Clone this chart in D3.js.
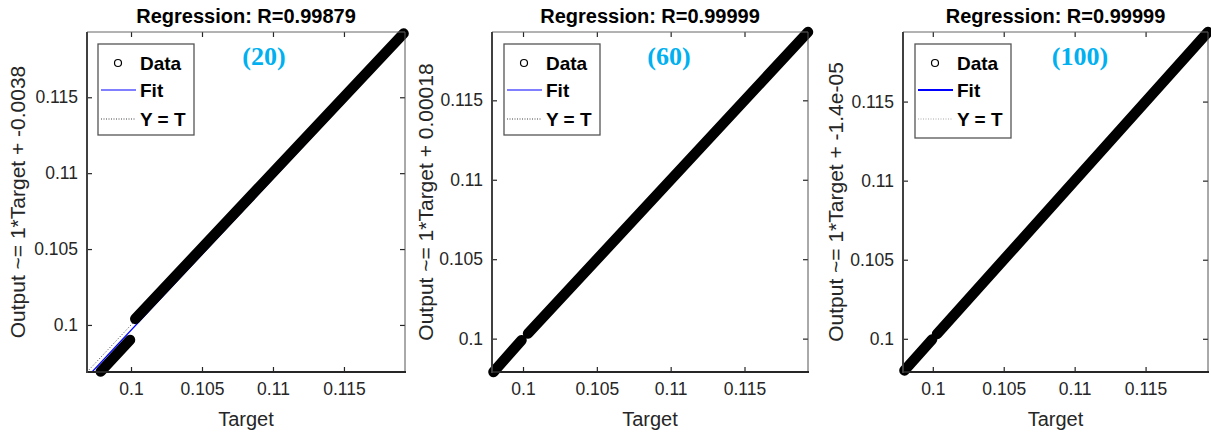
<!DOCTYPE html>
<html>
<head>
<meta charset="utf-8">
<script src="https://cdn.jsdelivr.net/npm/d3@7"></script>
<style>
  body { margin: 0; background: #fff; }
  svg { display: block; }
  text { font-family: "Liberation Sans", Arial, sans-serif; fill: #262626; }
</style>
</head>
<body>
<svg id="chart" width="1211" height="437"></svg>
<script>
// ---- data ----
const panelTitles = ["Regression: R=0.99879", "Regression: R=0.99999", "Regression: R=0.99999"];
const panelTags = ["(20)", "(60)", "(100)"];
const yLabels = [
  "Output ~= 1*Target + -0.0038",
  "Output ~= 1*Target + 0.00018",
  "Output ~= 1*Target + -1.4e-05"
];
// axis limits = min / max of the targets (same on x and y)
const axisLimits = [[0.0969, 0.1193], [0.0979, 0.1193], [0.0979, 0.1194]];
const tickValues = [0.1, 0.105, 0.11, 0.115];
const tickLabels = ["0.1", "0.105", "0.11", "0.115"];
// fit line as it is drawn in the picture
const fitSlopes = [1.0, 0.9983, 1.00013];
const fitIntercepts = [-0.00035, 0.00018, -0.000014];
// runs of data points: [target, output] at the start and end of each run
const dataRuns20 = [
  [[0.09787, 0.09693], [0.09993, 0.09901]],
  [[0.1003, 0.1004], [0.1192, 0.1192]]
];
const dataRuns60 = [
  [[0.0980, 0.0979], [0.0999, 0.0999]],
  [[0.10034, 0.10032], [0.1193, 0.1193]]
];
const dataRuns100 = [
  [[0.0980, 0.0980], [0.09995, 0.09995]],
  [[0.1003, 0.1003], [0.1194, 0.1194]]
];
const dataRuns = [dataRuns20, dataRuns60, dataRuns100];
const legendLabels = ["Data", "Fit", "Y = T"];

// ---- layout ----
const panels = [
  { left: 87, right: 405, top: 32, bottom: 372, ylabX: 25, legX: 98, legH: 91, fitW: 1.3, ytColor: "#404040" },
  { left: 492, right: 808, top: 32, bottom: 372, ylabX: 433, legX: 504, legH: 91, fitW: 1.3, ytColor: "#404040" },
  { left: 903, right: 1208, top: 32, bottom: 372, ylabX: 843, legX: 915, legH: 94, fitW: 2.2, ytColor: "#a8a8a8" }
];

const svg = d3.select("#chart");

panels.forEach((p, i) => {
  const x = d3.scaleLinear().domain(axisLimits[i]).range([p.left, p.right]);
  const y = d3.scaleLinear().domain(axisLimits[i]).range([p.bottom, p.top]);
  const g = svg.append("g");

  g.append("clipPath").attr("id", "clip" + i)
    .append("rect")
    .attr("x", p.left).attr("y", p.top)
    .attr("width", p.right - p.left).attr("height", p.bottom - p.top);

  // fit and Y = T lines
  const [t0, t1] = axisLimits[i];
  const lines = g.append("g").attr("clip-path", `url(#clip${i})`);
  lines.append("line")
    .attr("x1", x(t0)).attr("y1", y(fitSlopes[i] * t0 + fitIntercepts[i]))
    .attr("x2", x(t1)).attr("y2", y(fitSlopes[i] * t1 + fitIntercepts[i]))
    .attr("stroke", "#0000ff").attr("stroke-width", p.fitW);
  lines.append("line")
    .attr("x1", x(t0)).attr("y1", y(t0))
    .attr("x2", x(t1)).attr("y2", y(t1))
    .attr("stroke", p.ytColor).attr("stroke-width", 1)
    .attr("stroke-dasharray", "1,2");

  // data (dense circles -> thick round band)
  const line = d3.line().x(d => x(d[0])).y(d => y(d[1]));
  g.selectAll(".run")
    .data(dataRuns[i])
    .enter()
    .append("path")
    .attr("d", line)
    .attr("fill", "none")
    .attr("stroke", "#000")
    .attr("stroke-width", 10.5)
    .attr("stroke-linecap", "round");

  // axes with inward ticks on all four sides
  const fmt = (d) => tickLabels[tickValues.indexOf(d)];
  const ax = [
    { axis: d3.axisBottom(x), tr: `translate(0,${p.bottom})`, labels: true },
    { axis: d3.axisTop(x), tr: `translate(0,${p.top})`, labels: false },
    { axis: d3.axisLeft(y), tr: `translate(${p.left},0)`, labels: true },
    { axis: d3.axisRight(y), tr: `translate(${p.right},0)`, labels: false }
  ];
  ax.forEach((a, k) => {
    const ag = g.append("g").attr("transform", a.tr)
      .call(a.axis.tickValues(tickValues).tickFormat(fmt).tickSizeInner(-5).tickSizeOuter(0).tickPadding(k < 2 ? 11 : 9));
    ag.select(".domain").remove();
    ag.selectAll(".tick line").attr("stroke", "#262626").attr("stroke-width", 1.2);
    if (a.labels) {
      ag.selectAll(".tick text").attr("font-size", 17.5).attr("fill", "#262626")
        .style("font-family", '"Liberation Sans", Arial, sans-serif');
    } else {
      ag.selectAll(".tick text").remove();
    }
  });

  // box
  g.append("line").attr("x1", p.left).attr("x2", p.right).attr("y1", p.top).attr("y2", p.top)
    .attr("stroke", "#666").attr("stroke-width", 1);
  g.append("line").attr("x1", p.right).attr("x2", p.right).attr("y1", p.top).attr("y2", p.bottom)
    .attr("stroke", "#555").attr("stroke-width", 1);
  g.append("line").attr("x1", p.left).attr("x2", p.right + 1).attr("y1", p.bottom).attr("y2", p.bottom)
    .attr("stroke", "#262626").attr("stroke-width", 2);
  g.append("line").attr("x1", p.left).attr("x2", p.left).attr("y1", p.top).attr("y2", p.bottom + 1)
    .attr("stroke", "#404040").attr("stroke-width", 2);

  // title, labels
  const cx = (p.left + p.right) / 2;
  g.append("text").text(panelTitles[i])
    .attr("x", cx).attr("y", 22.5).attr("text-anchor", "middle")
    .attr("font-size", 20).attr("font-weight", "bold").style("fill", "#000");
  g.append("text").text("Target")
    .attr("x", cx).attr("y", 426).attr("text-anchor", "middle")
    .attr("font-size", 20);
  g.append("text").text(yLabels[i])
    .attr("transform", `translate(${p.ylabX},${(p.top + p.bottom) / 2}) rotate(-90)`)
    .attr("text-anchor", "middle").attr("font-size", 21);

  // tag
  g.append("text").text(panelTags[i])
    .attr("x", p.left + 177).attr("y", 65).attr("text-anchor", "middle")
    .attr("font-size", 26).attr("font-weight", "bold")
    .style("font-family", '"Liberation Serif", "Times New Roman", serif')
    .style("fill", "#00b0f0");

  // legend
  const lg = g.append("g").attr("transform", `translate(${p.legX},44)`);
  lg.append("rect").attr("width", 96).attr("height", p.legH)
    .attr("fill", "#fff").attr("stroke", "#555").attr("stroke-width", 1.3);
  const rowY = [19, 46, 75];
  lg.append("circle").attr("cx", 20).attr("cy", rowY[0]).attr("r", 3.5)
    .attr("fill", "none").attr("stroke", "#000").attr("stroke-width", 1.2);
  lg.append("line").attr("x1", 3).attr("x2", 38).attr("y1", rowY[1]).attr("y2", rowY[1])
    .attr("stroke", i === 2 ? "#0000ff" : "#5555ff").attr("stroke-width", p.fitW);
  lg.append("line").attr("x1", 3).attr("x2", 38).attr("y1", rowY[2]).attr("y2", rowY[2])
    .attr("stroke", p.ytColor).attr("stroke-width", 1).attr("stroke-dasharray", "1,1.5");
  lg.selectAll(".lt")
    .data(legendLabels)
    .enter()
    .append("text")
    .text(d => d)
    .attr("x", 42)
    .attr("y", (d, k) => rowY[k] + 6.5)
    .attr("font-size", 19).attr("font-weight", "bold").style("fill", "#000");
});
</script>
</body>
</html>
